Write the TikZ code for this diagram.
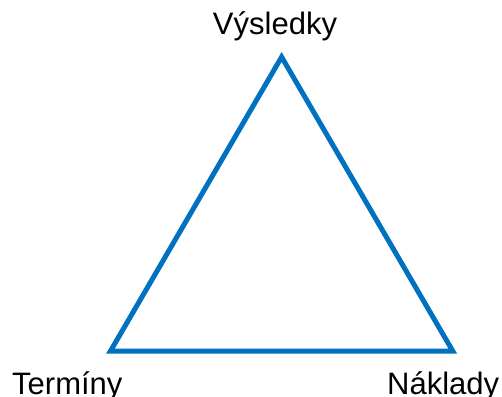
\documentclass[tikz,border=0pt]{standalone}
\usepackage{fontspec}
\setmainfont{Liberation Sans}
\definecolor{triblue}{HTML}{0070C0}
\begin{document}
\begin{tikzpicture}[x=1pt,y=1pt,
  edge/.style={draw=triblue,line width=5pt,line join=miter},
  label/.style={inner sep=0pt,font=\fontsize{31}{31}\selectfont}]
\useasboundingbox (0,0) rectangle (502,396);
% corners of the triangle
\coordinate (top) at (281.6,339);
\coordinate (left) at (110.5,45);
\coordinate (right) at (452.7,45);
\draw[edge] (top) -- (right) -- (left) -- cycle;
% corner labels
\node[label,anchor=base] (res) at (275,361) {Výsledky};
\node[label,anchor=base west] (time) at (12,2) {Termíny};
\node[label,anchor=base west] (cost) at (387,2) {Náklady};
\end{tikzpicture}
\end{document}
